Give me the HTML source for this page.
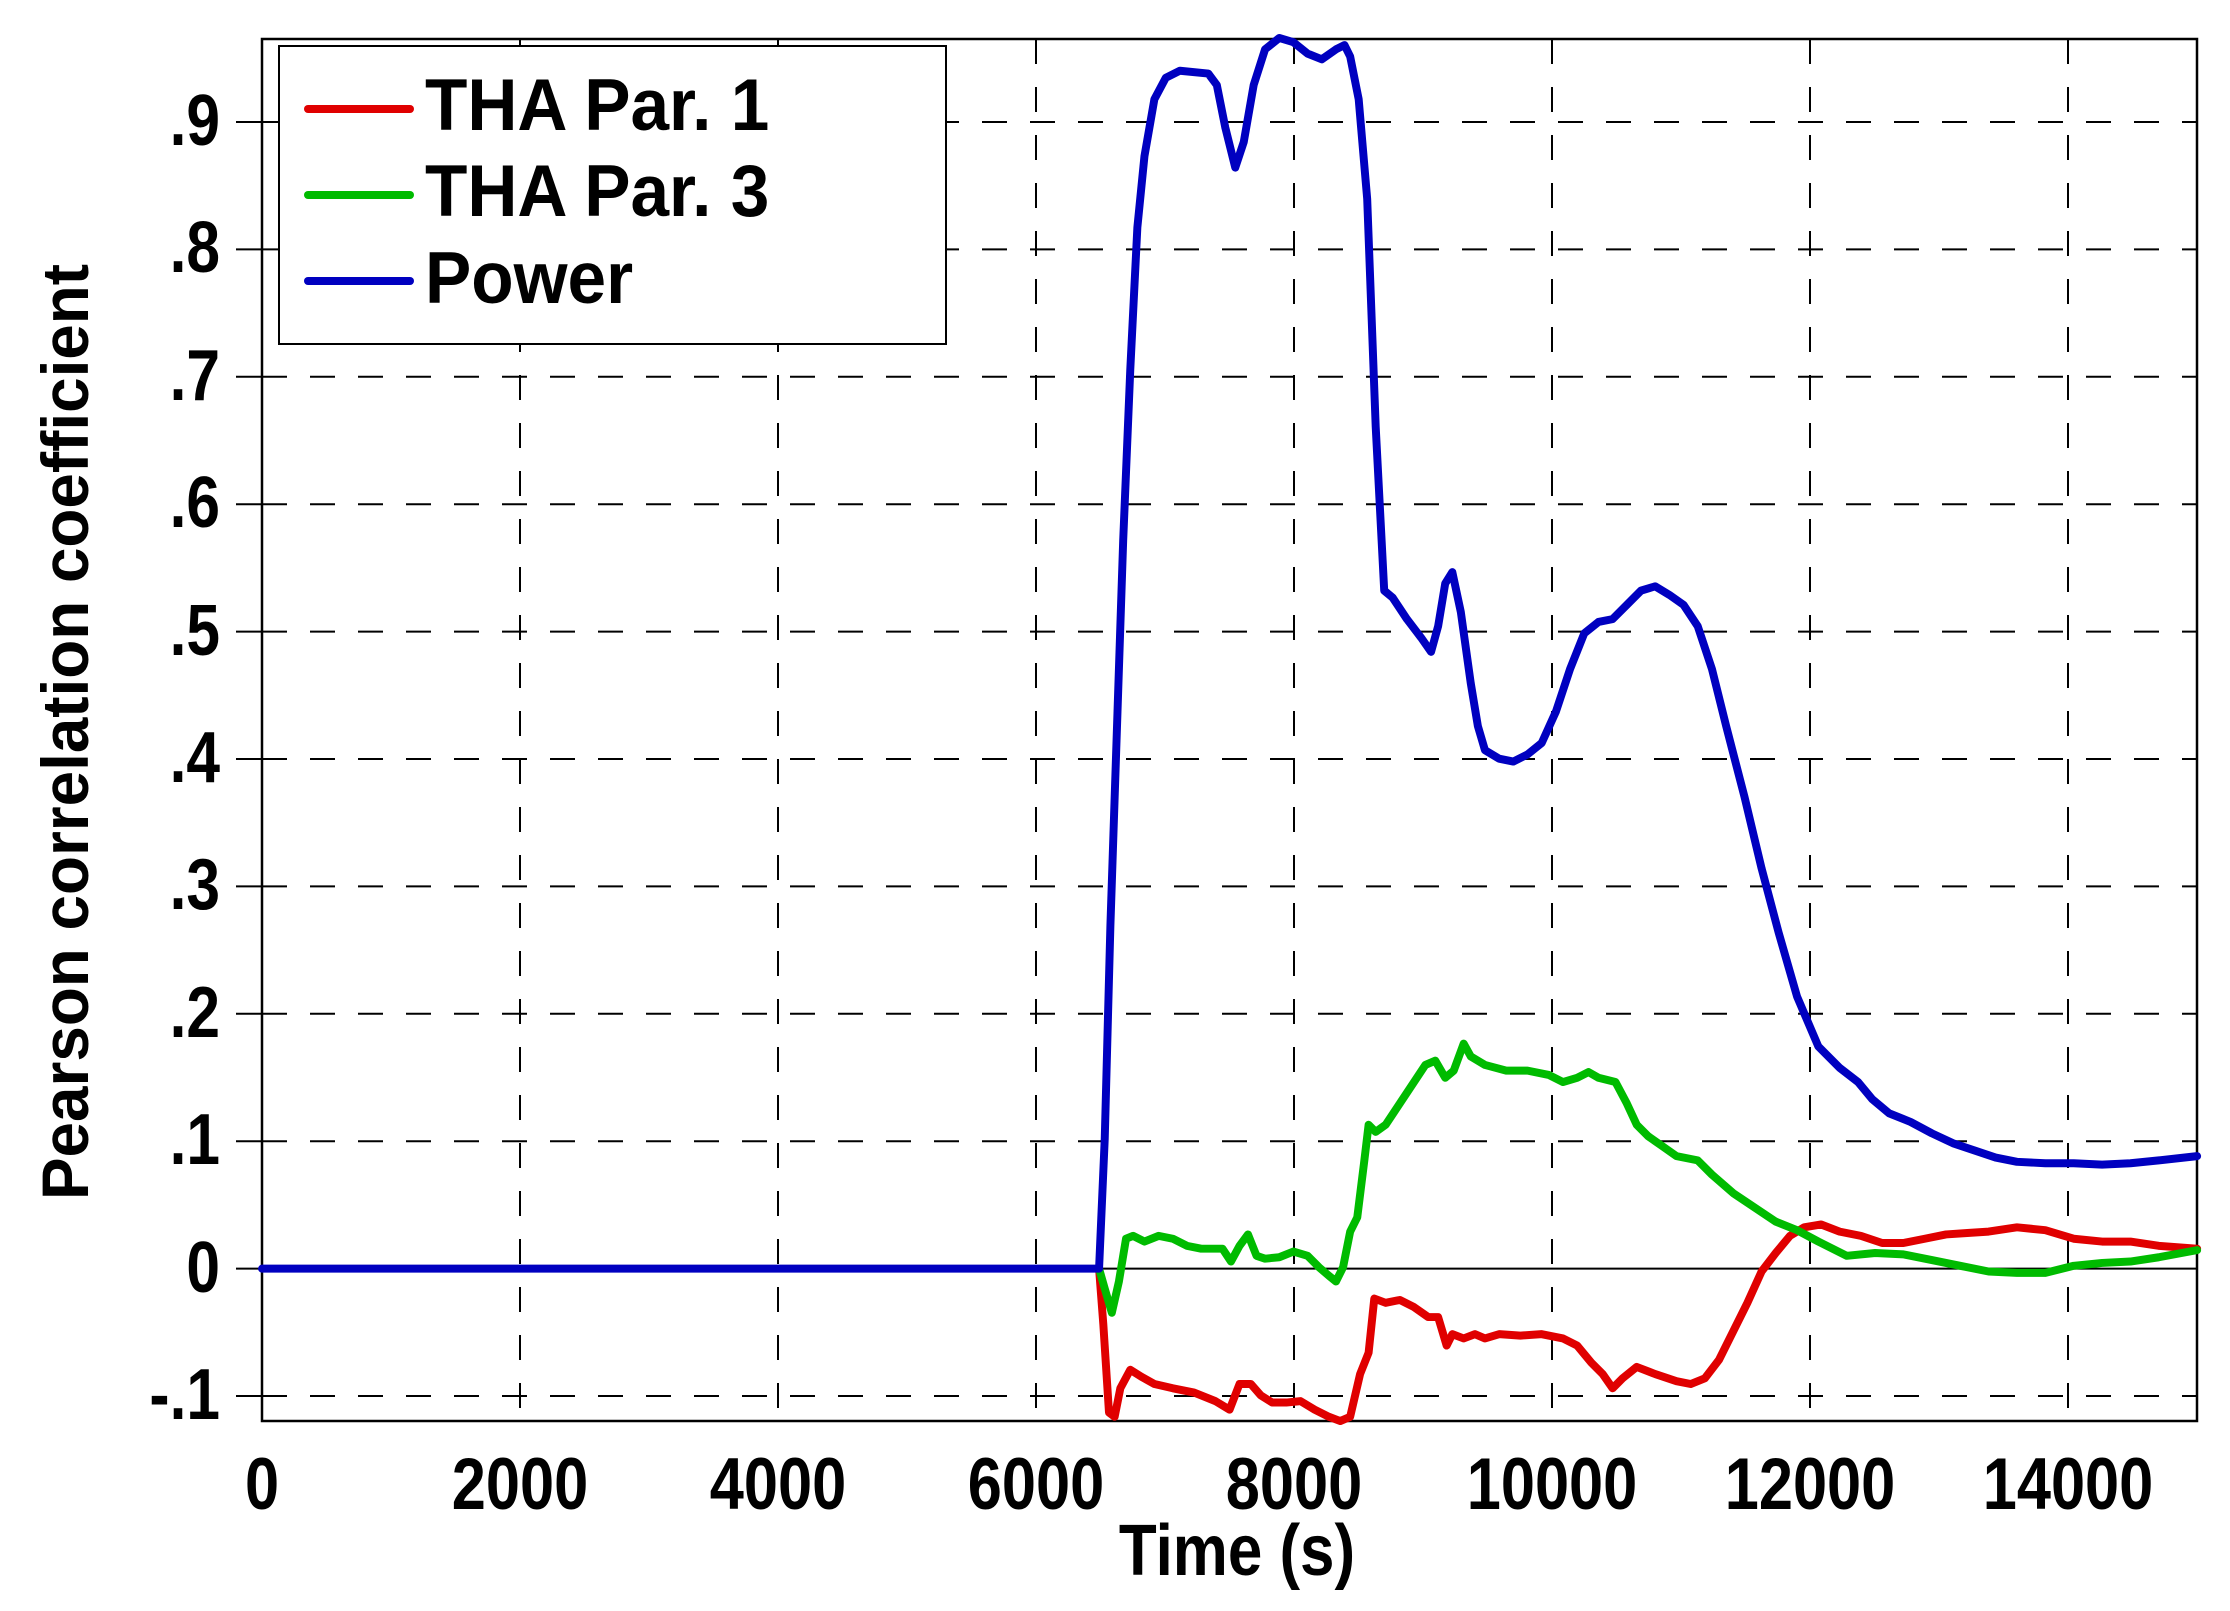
<!DOCTYPE html>
<html><head><meta charset="utf-8"><style>
html,body{margin:0;padding:0;background:#fff;}
svg{display:block;}
text{font-family:"Liberation Sans",Arial,sans-serif;font-weight:bold;fill:#000;}
</style></head><body>
<svg width="2230" height="1611" viewBox="0 0 2230 1611" xmlns="http://www.w3.org/2000/svg">
<rect width="2230" height="1611" fill="#fff"/>
<g stroke="#000" stroke-width="2" stroke-dasharray="25,23" fill="none">
<line x1="520" y1="39" x2="520" y2="1421"/>
<line x1="778" y1="39" x2="778" y2="1421"/>
<line x1="1036" y1="39" x2="1036" y2="1421"/>
<line x1="1294" y1="39" x2="1294" y2="1421"/>
<line x1="1552" y1="39" x2="1552" y2="1421"/>
<line x1="1810" y1="39" x2="1810" y2="1421"/>
<line x1="2068" y1="39" x2="2068" y2="1421"/>
<line x1="262" y1="1396" x2="2197" y2="1396"/>
<line x1="262" y1="1141.2" x2="2197" y2="1141.2"/>
<line x1="262" y1="1013.8" x2="2197" y2="1013.8"/>
<line x1="262" y1="886.4" x2="2197" y2="886.4"/>
<line x1="262" y1="759" x2="2197" y2="759"/>
<line x1="262" y1="631.6" x2="2197" y2="631.6"/>
<line x1="262" y1="504.2" x2="2197" y2="504.2"/>
<line x1="262" y1="376.8" x2="2197" y2="376.8"/>
<line x1="262" y1="249.4" x2="2197" y2="249.4"/>
<line x1="262" y1="122" x2="2197" y2="122"/>
</g>
<line x1="262" y1="1268.6" x2="2197" y2="1268.6" stroke="#000" stroke-width="2"/>
<g stroke="#000" stroke-width="2">
<line x1="236" y1="1396" x2="262" y2="1396"/><line x1="236" y1="1268.6" x2="262" y2="1268.6"/>
<line x1="236" y1="1141.2" x2="262" y2="1141.2"/><line x1="236" y1="1013.8" x2="262" y2="1013.8"/>
<line x1="236" y1="886.4" x2="262" y2="886.4"/><line x1="236" y1="759" x2="262" y2="759"/>
<line x1="236" y1="631.6" x2="262" y2="631.6"/><line x1="236" y1="504.2" x2="262" y2="504.2"/>
<line x1="236" y1="376.8" x2="262" y2="376.8"/><line x1="236" y1="249.4" x2="262" y2="249.4"/>
<line x1="236" y1="122" x2="262" y2="122"/>
</g>
<rect x="262" y="39" width="1935" height="1382" fill="none" stroke="#000" stroke-width="2.5"/>
<g transform="translate(2.4,-0.5) scale(1.4187,1.4244)" fill="none" stroke-width="5.6" stroke-linejoin="round" stroke-linecap="round">
<polyline stroke="#e00000" points="773,891 776,930 780,992 784,995 788,975 795,962 803,967 812,972 825,975 840,978 855,984 865,990 872,972 880,972 887,980 895,985 905,985 915,984 925,990 935,995 943,998 950,995 957,965 963,950 967,912 975,915 985,913 995,918 1005,925 1012,925 1018,945 1022,937 1030,940 1038,937 1045,940 1055,937 1070,938 1085,937 1100,940 1110,945 1120,957 1128,965 1135,975 1142,968 1152,960 1165,965 1180,970 1190,972 1200,968 1210,955 1220,935 1230,915 1240,893 1250,880 1260,868 1270,862 1282,860 1295,865 1310,868 1325,873 1340,873 1355,870 1370,867 1385,866 1400,865 1420,862 1440,864 1460,870 1480,872 1500,872 1520,875 1547,877"/>
<polyline stroke="#00bb00" points="773,891 777,905 782,922 787,900 792,870 797,868 805,872 815,868 825,870 835,875 845,877 860,877 866,886 872,875 878,867 884,882 890,884 900,883 910,879 920,882 928,890 935,896 940,900 945,890 950,865 955,855 960,815 963,790 968,795 975,790 985,775 995,760 1003,748 1010,745 1017,757 1023,752 1030,733 1035,742 1045,748 1060,752 1075,752 1090,755 1100,760 1110,757 1118,753 1125,757 1137,760 1145,775 1152,790 1160,798 1170,805 1180,812 1195,815 1205,825 1220,838 1235,848 1250,858 1265,864 1280,872 1300,882 1320,880 1340,881 1360,885 1380,889 1400,893 1420,894 1440,894 1460,889 1480,887 1500,886 1520,883 1547,878"/>
<polyline stroke="#0000c0" points="183,891 773,891 777,800 781,650 786,500 790,380 795,260 800,160 805,110 812,70 820,55 830,50 850,52 856,60 862,90 869,118 875,100 882,60 890,35 900,27 910,30 920,38 930,42 940,35 946,32 950,40 956,70 962,140 968,300 974,415 980,420 990,435 1000,448 1007,458 1012,440 1017,410 1022,402 1028,430 1035,480 1040,510 1045,527 1055,533 1065,535 1075,530 1085,522 1095,500 1105,470 1115,445 1125,437 1135,435 1145,425 1155,415 1165,412 1175,418 1185,425 1195,440 1205,470 1215,510 1228,560 1240,610 1252,655 1265,700 1280,735 1295,750 1308,760 1318,772 1330,782 1345,788 1360,796 1375,803 1390,808 1405,813 1420,816 1440,817 1460,817 1480,818 1500,817 1520,815 1547,812"/>
</g>
<rect x="279" y="46" width="667" height="298" fill="#fff" stroke="#000" stroke-width="2"/>
<g stroke-width="8" stroke-linecap="round">
<line x1="308" y1="109" x2="410" y2="109" stroke="#e00000"/>
<line x1="308" y1="195" x2="410" y2="195" stroke="#00bb00"/>
<line x1="308" y1="281" x2="410" y2="281" stroke="#0000c0"/>
</g>
<g font-size="73">
<text transform="translate(425,130) scale(0.95,1)">THA Par. 1</text>
<text transform="translate(425,216) scale(0.95,1)">THA Par. 3</text>
<text transform="translate(425,303) scale(0.95,1)">Power</text>
</g>
<g font-size="72" text-anchor="end">
<text transform="translate(220,1419) scale(0.84,1)">-.1</text>
<text transform="translate(220,1292) scale(0.84,1)">0</text>
<text transform="translate(220,1164) scale(0.84,1)">.1</text>
<text transform="translate(220,1037) scale(0.84,1)">.2</text>
<text transform="translate(220,909) scale(0.84,1)">.3</text>
<text transform="translate(220,782) scale(0.84,1)">.4</text>
<text transform="translate(220,655) scale(0.84,1)">.5</text>
<text transform="translate(220,527) scale(0.84,1)">.6</text>
<text transform="translate(220,400) scale(0.84,1)">.7</text>
<text transform="translate(220,272) scale(0.84,1)">.8</text>
<text transform="translate(220,145) scale(0.84,1)">.9</text>
</g>
<g font-size="73" text-anchor="middle">
<text transform="translate(262,1509) scale(0.84,1)">0</text>
<text transform="translate(520,1509) scale(0.84,1)">2000</text>
<text transform="translate(778,1509) scale(0.84,1)">4000</text>
<text transform="translate(1036,1509) scale(0.84,1)">6000</text>
<text transform="translate(1294,1509) scale(0.84,1)">8000</text>
<text transform="translate(1552,1509) scale(0.84,1)">10000</text>
<text transform="translate(1810,1509) scale(0.84,1)">12000</text>
<text transform="translate(2068,1509) scale(0.84,1)">14000</text>
</g>
<text transform="translate(1237,1575) scale(0.86,1)" font-size="72" text-anchor="middle">Time (s)</text>
<text transform="translate(88,732) rotate(-90)" font-size="66" text-anchor="middle" textLength="936" lengthAdjust="spacingAndGlyphs">Pearson correlation coefficient</text>
</svg>
</body></html>
